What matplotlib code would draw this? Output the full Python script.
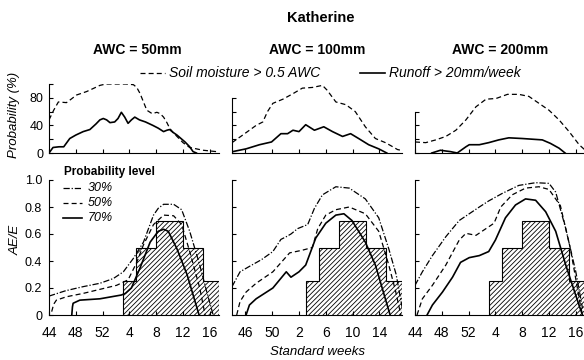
import matplotlib
matplotlib.use("Agg")
import matplotlib.pyplot as plt
from matplotlib.lines import Line2D

plt.rcParams['font.family'] = ['Liberation Sans', 'DejaVu Sans']
plt.rcParams['hatch.linewidth'] = 0.6

# x positions are weeks counted from standard week 44
week_ticks = [0, 4, 8, 12, 16, 20, 24]
week_labels = ['44', '48', '52', '4', '8', '12', '16']
week_ticks_mid = [2, 6, 10, 14, 18, 22]
week_labels_mid = ['46', '50', '2', '6', '10', '14']

titles = ['AWC = 50mm', 'AWC = 100mm', 'AWC = 200mm']

# top row: probability (%) of soil moisture > 0.5 AWC and of runoff > 20mm/week
soil_t = [
    [0, 0.7, 1.4, 2.6, 3.3, 4.1, 5.6, 6.5, 7.6, 8.5, 10, 11.5, 12.6, 13.1, 13.6, 14.1, 14.6, 15.4,
     16.1, 16.6, 17.1, 17.6, 18, 18.5, 19, 20, 21, 22, 23, 24, 25],
    [0, 1.6, 3.6, 4.6, 5.3, 6.1, 7.6, 9.1, 10.5, 12, 13.5, 14.2, 15.5, 17, 18.4, 19.9, 21.4, 22.9,
     24, 24.7, 25.7],
    [0, 1.6, 3.1, 4.6, 6.1, 7.6, 9.1, 10.6, 12.1, 13.8, 15.5, 17, 18.5, 20, 21.5, 23, 24.5, 25.3],
]
soil_v = [
    [48, 62, 74, 73, 78, 84, 89, 93, 98, 100, 100, 100, 99, 95, 86, 74, 62, 57,
     59, 57, 52, 44, 36, 30, 25, 15, 8, 6, 4, 3, 2],
    [15, 26, 40, 45, 60, 72, 78, 86, 94, 95, 98, 91, 74, 70, 60, 38, 21, 15,
     9, 5, 3],
    [16, 15, 19, 24, 33, 48, 67, 78, 79, 85, 85, 82, 72, 62, 48, 31, 12, 5],
]
runoff_t = [
    [0, 0.3, 0.6, 1.5, 2.2, 3.1, 4, 5.1, 6.1, 7, 7.6, 8.1, 8.6, 9.1, 9.8, 10.3, 10.8, 11.3, 11.8,
     12.3, 12.8, 13.5, 14.4, 15.5, 16.3, 17.1, 17.6, 18, 18.5, 19.1, 20.3, 21, 21.5, 22],
    [0.1, 2.1, 4.1, 5.9, 7.3, 8.3, 9.1, 10, 11, 12.3, 13.7, 15, 16.5, 17.7, 18.9, 20.4, 21.9, 23.1],
    [2.5, 3.8, 4.5, 5.3, 6.3, 7.6, 8.1, 9.6, 11, 12.5, 14, 16, 17.5, 19, 20.2, 21.5, 22.4],
]
runoff_v = [
    [0, 4, 8, 9, 9, 21, 26, 31, 34, 42, 48, 50, 48, 44, 45, 50, 59, 52, 43,
     48, 52, 48, 45, 40, 36, 31, 33, 34, 30, 26, 16, 9, 2, 0],
    [2, 6, 12, 16, 28, 28, 33, 31, 41, 33, 38, 31, 24, 28, 21, 12, 6, 0],
    [0, 4, 3, 2, 0, 9, 12, 12, 15, 19, 22, 21, 20, 19, 14, 7, 0],
]

# bottom row: AE/E at 30%, 50% and 70% probability level
p30_t = [
    [0, 2.5, 5.1, 7.6, 9.6, 11.1, 12.6, 14.1, 15.6, 16.3, 17.1, 18.6, 19.8, 21, 22.5, 23.5, 24.5],
    [0, 1.2, 2.6, 4.4, 6.1, 7.3, 8.1, 8.8, 9.8, 11.3, 12.3, 13.5, 15.5, 17.5, 19.9, 21.9, 23.4,
     24.5, 25.6],
    [0, 1.1, 2.6, 4.6, 6.6, 8.1, 9.6, 11, 13, 15.5, 18, 20, 21, 22.5, 24, 25],
]
p30_v = [
    [0.14, 0.18, 0.21, 0.235, 0.27, 0.32, 0.42, 0.54, 0.74, 0.79, 0.82, 0.82, 0.78, 0.62, 0.37,
     0.18, 0],
    [0.21, 0.32, 0.36, 0.41, 0.47, 0.56, 0.58, 0.6, 0.64, 0.67, 0.79, 0.89, 0.95, 0.94, 0.86,
     0.72, 0.49, 0.3, 0],
    [0.22, 0.32, 0.44, 0.58, 0.7, 0.75, 0.8, 0.845, 0.9, 0.96, 0.98, 0.975, 0.91, 0.64, 0.32, 0.05],
]
p50_t = [
    [0.4, 0.7, 1.1, 2.6, 5.1, 7.6, 10.1, 11.8, 13.1, 14.1, 15.6, 17.1, 18.6, 19.8, 21, 22.5, 23.3],
    [0.7, 1.2, 2.1, 3.6, 6.1, 8.6, 10.5, 12, 12.8, 14, 15.5, 17.5, 19.9, 21.9, 23.4, 24.4, 25.2],
    [0.3, 1.1, 2.6, 4.6, 6.6, 7.6, 9.1, 10.6, 11.8, 12.8, 14.5, 16.5, 18.5, 20, 21.7, 23.2, 24.7, 25],
]
p50_v = [
    [0.025, 0.08, 0.11, 0.135, 0.16, 0.19, 0.22, 0.26, 0.39, 0.52, 0.67, 0.74, 0.735, 0.67,
     0.47, 0.2, 0],
    [0, 0.1, 0.17, 0.235, 0.32, 0.46, 0.48, 0.5, 0.64, 0.74, 0.78, 0.8, 0.75, 0.62, 0.37, 0.18, 0],
    [0, 0.12, 0.22, 0.37, 0.555, 0.605, 0.59, 0.64, 0.68, 0.8, 0.89, 0.94, 0.95, 0.93, 0.81,
     0.49, 0.07, 0],
]
p70_t = [
    [3.4, 3.5, 3.6, 4.6, 7.6, 10.8, 11.4, 12.3, 13.6, 15.1, 16.3, 17.1, 17.8, 19.1, 20.6, 22.4],
    [2.1, 2.6, 3.6, 6.1, 8.1, 8.8, 10, 11, 12.5, 14, 15.5, 16.7, 17.9, 19.9, 21.4, 23.6],
    [1.8, 2.6, 4.1, 5.6, 6.8, 8.1, 9.6, 11, 12, 13.5, 15, 16.5, 18, 19.5, 21, 22.5, 24.5, 25],
]
p70_v = [
    [0, 0.06, 0.087, 0.11, 0.12, 0.148, 0.16, 0.2, 0.35, 0.54, 0.62, 0.635, 0.62, 0.49, 0.3, 0],
    [0, 0.074, 0.12, 0.2, 0.32, 0.28, 0.32, 0.37, 0.57, 0.68, 0.74, 0.75, 0.7, 0.54, 0.37, 0],
    [0, 0.074, 0.17, 0.28, 0.39, 0.425, 0.44, 0.47, 0.555, 0.72, 0.815, 0.86, 0.85, 0.765,
     0.62, 0.37, 0.07, 0],
]

# histogram of AE/E (same for the three AWC)
bar_edges = [11, 13, 16, 20, 23, 25.3]
bar_heights = [0.25, 0.5, 0.7, 0.5, 0.25]

W, H = 584, 360
fig = plt.figure(figsize=(W / 100, H / 100), dpi=100)


def px_axes(x0, y_top, x1, y_bottom):
    return fig.add_axes([x0 / W, 1 - y_bottom / H, (x1 - x0) / W, (y_bottom - y_top) / H])


def px_text(x, y, s, **kw):
    fig.text(x / W, 1 - y / H, s, **kw)


def px_line(x0, x1, y, **kw):
    fig.add_artist(Line2D([x0 / W, x1 / W], [1 - y / H, 1 - y / H], transform=fig.transFigure,
                          color='black', **kw))


lefts = [49, 232, 415]
span = 25.3 * 6.7
top_spine_max = [100, 80, 60]

for i, x0 in enumerate(lefts):
    ticks = week_ticks_mid if i == 1 else week_ticks
    labels = week_labels_mid if i == 1 else week_labels

    # top panel
    ax = px_axes(x0, 84, x0 + span, 153)
    ax.plot(soil_t[i], soil_v[i], color='black', lw=0.9, dashes=(4, 2.5))
    ax.plot(runoff_t[i], runoff_v[i], color='black', lw=1.2)
    ax.set_xlim(0, 25.3)
    ax.set_ylim(0, 100)
    for s in ['top', 'right']:
        ax.spines[s].set_visible(False)
    ax.spines['left'].set_bounds(0, top_spine_max[i])
    ax.set_yticks(list(range(0, top_spine_max[i] + 1, 20)))
    if i == 0:
        ax.set_yticklabels(['0', '', '40', '', '80', ''])
    else:
        ax.set_yticklabels([])
    ax.set_xticks(ticks)
    ax.set_xticklabels([])
    ax.tick_params(direction='in', length=3, width=0.8, labelsize=9, pad=4)
    for s in ax.spines.values():
        s.set_linewidth(0.8)

    # bottom panel
    ax = px_axes(x0, 180, x0 + span, 315)
    ax.stairs(bar_heights, bar_edges, fill=True, facecolor='white', edgecolor='black',
              hatch='///////', linewidth=0.8, zorder=1)
    ax.plot(p30_t[i], p30_v[i], color='black', lw=0.9, dashes=(5, 1.5, 1, 1.5), zorder=3)
    ax.plot(p50_t[i], p50_v[i], color='black', lw=0.9, dashes=(4, 2.5), zorder=3)
    ax.plot(p70_t[i], p70_v[i], color='black', lw=1.2, zorder=3)
    ax.set_xlim(0, 25.3)
    ax.set_ylim(0, 1.0)
    for s in ['top', 'right']:
        ax.spines[s].set_visible(False)
    ax.set_yticks([0, 0.2, 0.4, 0.6, 0.8, 1.0])
    if i == 0:
        ax.set_yticklabels(['0', '0.2', '0.4', '0.6', '0.8', '1.0'])
    else:
        ax.set_yticklabels([])
    ax.set_xticks(ticks)
    ax.set_xticklabels(labels)
    ax.tick_params(direction='in', length=3, width=0.8, labelsize=9, pad=5)
    ax.tick_params(axis='x', labelsize=10, pad=8)
    for s in ax.spines.values():
        s.set_linewidth(0.8)

    px_text(x0 + 85 + (3 if i == 0 else 0), 50, titles[i], ha='center', va='center',
            fontsize=10, fontweight='bold')

px_text(321, 18, 'Katherine', ha='center', va='center', fontsize=10.5, fontweight='bold')

# top legend
px_line(140, 165, 73, lw=0.9, dashes=(4, 2.5))
px_text(169, 73, 'Soil moisture > 0.5 AWC', ha='left', va='center', fontsize=10, style='italic')
px_line(360, 385, 73, lw=1.2)
px_text(389, 73, 'Runoff > 20mm/week', ha='left', va='center', fontsize=10, style='italic')

# probability level legend
px_text(64, 172, 'Probability level', ha='left', va='center', fontsize=8.5, fontweight='bold')
level_names = ['30%', '50%', '70%']
level_styles = [dict(lw=0.9, dashes=(5, 1.5, 1, 1.5)), dict(lw=0.9, dashes=(4, 2.5)), dict(lw=1.2)]
for k, (name, st) in enumerate(zip(level_names, level_styles)):
    yy = 188 + 15 * k
    px_line(63, 82, yy, **st)
    px_text(88, yy, name, ha='left', va='center', fontsize=9, style='italic')

px_text(14, 115, 'Probability (%)', ha='center', va='center', rotation=90, fontsize=9.5,
        style='italic')
px_text(16, 240, 'AE/E', ha='center', va='center', rotation=90, fontsize=9.5, style='italic')
px_text(318, 352, 'Standard weeks', ha='center', va='center', fontsize=9.5, style='italic')

fig.savefig('out.png', dpi=100)
